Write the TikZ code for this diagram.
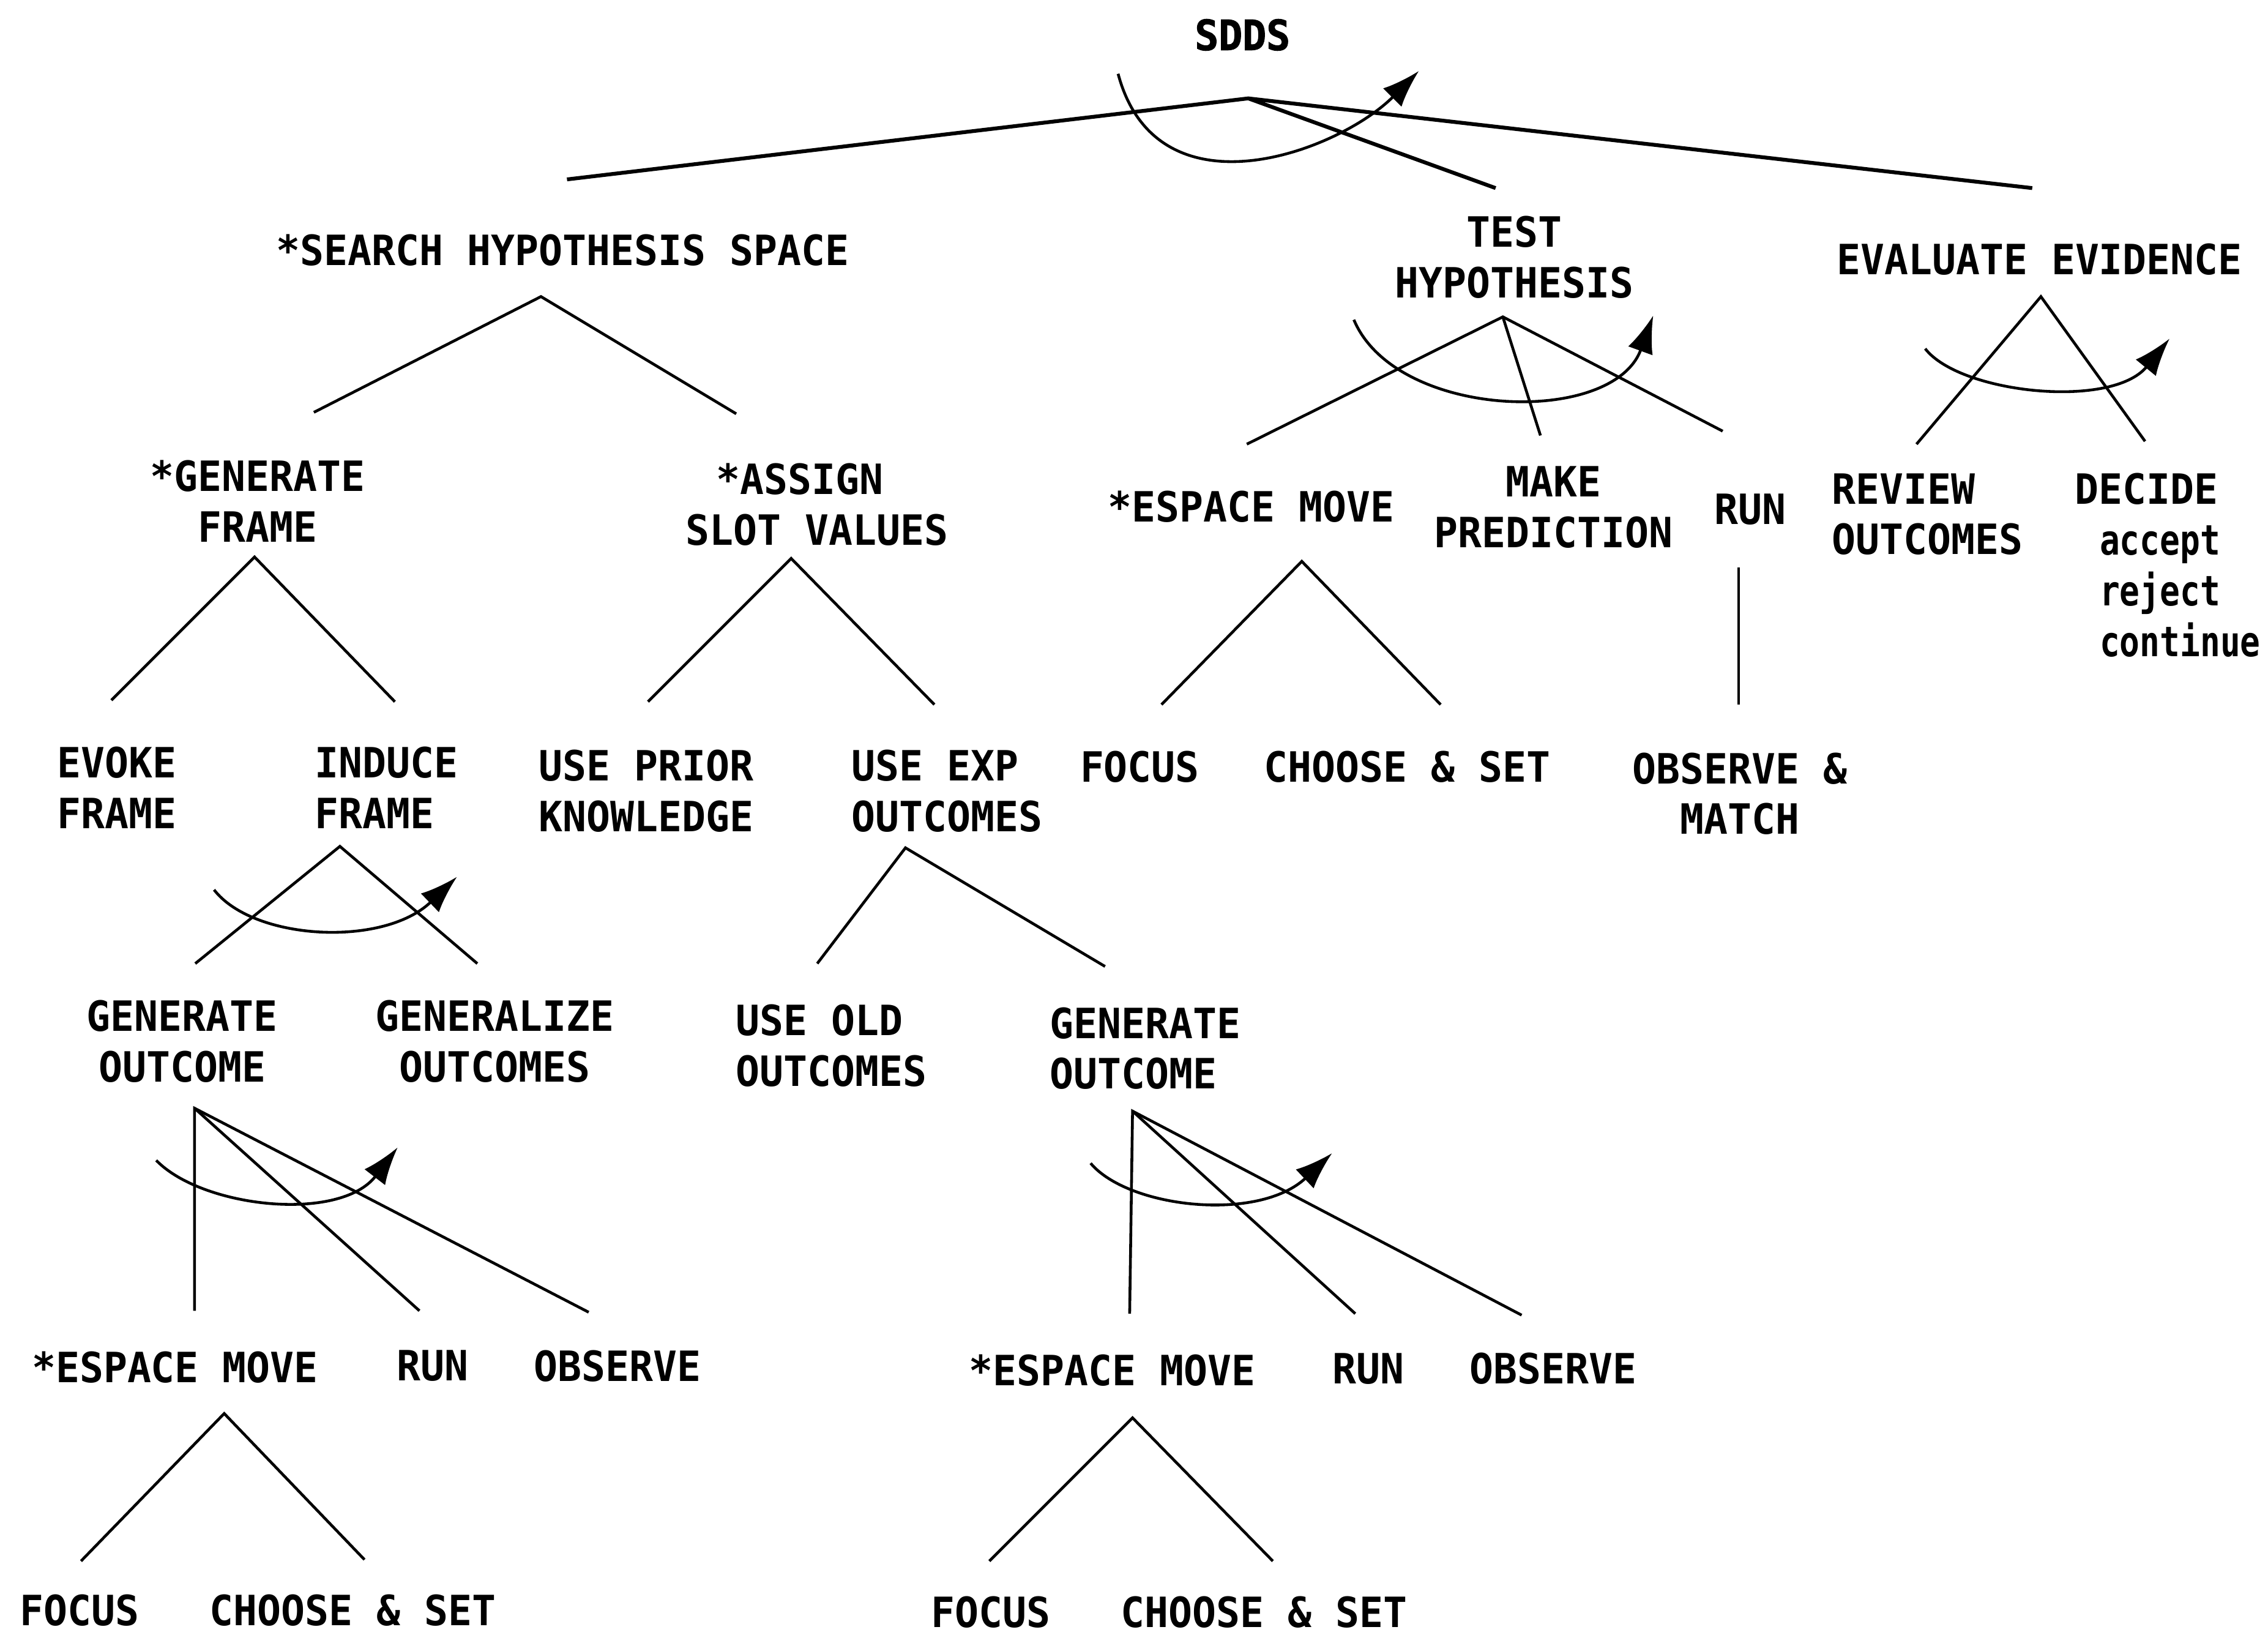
\documentclass[tikz,border=0pt]{standalone}
\usepackage{fontspec}
\newfontfamily\plotfont{DejaVu Sans Mono}[FakeStretch=0.95]
\newfontfamily\plotnarrow{DejaVu Sans Mono Bold}[FakeStretch=0.8]
\newfontfamily\plotheavy{DejaVu Sans Mono Bold}[FakeStretch=0.95, FakeBold=1.5]
\usetikzlibrary{arrows.meta}
\tikzset{
    task/.style={
        font=\plotfont\bfseries\fontsize{8.2}{9.96}\selectfont,
        inner sep=0pt, align=center, anchor=north, yshift=0.25mm
    },
    taskleft/.style={task, align=left, anchor=north west},
    title/.style={task, font=\plotheavy\fontsize{8.2}{9.96}\selectfont},
    branch/.style={line width=0.55pt},
    topbranch/.style={line width=0.75pt},
    seqarrow/.style={line width=0.55pt, -{Latex[length=2.6mm, width=1.8mm]}}
}

\begin{document}
\begin{tikzpicture}[x=0.01cm, y=-0.01cm]
\useasboundingbox (0,0) rectangle (1568,1130);

% Top goal
\node[title] (sdds) at (859,15) {SDDS};

% Level 1
\node[task] (search) at (389,164) {*SEARCH HYPOTHESIS SPACE};
\node[task] (test) at (1047,151) {TEST\\HYPOTHESIS};
\node[task] (eval) at (1410,170) {EVALUATE EVIDENCE};

% Level 2
\node[task] (genframe) at (178,320) {*GENERATE\\FRAME};
\node[task] (assign) at (565,322) {*ASSIGN\hspace*{0.24cm}\\SLOT VALUES};
\node[task] (espace1) at (865,341) {*ESPACE MOVE};
\node[task] (predict) at (1074,324) {MAKE\\PREDICTION};
\node[task] (run1) at (1210,343) {RUN};
\node[taskleft] (review) at (1266,329) {REVIEW\\OUTCOMES};
\node[taskleft] (decide) at (1434,329)
    {DECIDE\\{\plotnarrow\hspace*{0.17cm}accept}\\{\plotnarrow\hspace*{0.17cm}reject}\\{\plotnarrow\hspace*{0.17cm}continue}};

% Level 3
\node[taskleft] (evoke) at (39,518) {EVOKE\\FRAME};
\node[taskleft] (induce) at (217,518) {INDUCE\\FRAME};
\node[taskleft] (prior) at (372,520) {USE PRIOR\\KNOWLEDGE};
\node[taskleft] (useexp) at (588,520) {USE EXP\\OUTCOMES};
\node[task] (focus1) at (788,521) {FOCUS};
\node[task] (choose1) at (973,521) {CHOOSE \& SET};
\node[task] (obsmatch) at (1203,522) {OBSERVE \&\\MATCH};

% Level 4
\node[task] (genout1) at (126,693) {GENERATE\\OUTCOME};
\node[task] (generalize) at (342,693) {GENERALIZE\\OUTCOMES};
\node[taskleft] (useold) at (508,696) {USE OLD\\OUTCOMES};
\node[taskleft] (genout2) at (725,698) {GENERATE\\OUTCOME};

% Level 5
\node[task] (espace2) at (121,936) {*ESPACE MOVE};
\node[task] (run2) at (299,935) {RUN};
\node[task] (observe2) at (427,935) {OBSERVE};
\node[task] (espace3) at (769,938) {*ESPACE MOVE};
\node[task] (run3) at (946,937) {RUN};
\node[task] (observe3) at (1074,937) {OBSERVE};

% Level 6
\node[task] (focus2) at (55,1104) {FOCUS};
\node[task] (choose2) at (244,1104) {CHOOSE \& SET};
\node[task] (focus3) at (685,1105) {FOCUS};
\node[task] (choose3) at (874,1105) {CHOOSE \& SET};

% Fork points and branch ends
\coordinate (sdds-fork) at (863,68);
\coordinate (search-top) at (392,124);
\coordinate (test-top) at (1034,130);
\coordinate (eval-top) at (1405,130);
\coordinate (search-fork) at (374,205);
\coordinate (genframe-top) at (217,285);
\coordinate (assign-top) at (509,286);
\coordinate (test-fork) at (1039,219);
\coordinate (espace1-top) at (862,307);
\coordinate (predict-top) at (1065,301);
\coordinate (run1-top) at (1191,298);
\coordinate (eval-fork) at (1411,205);
\coordinate (review-top) at (1325,307);
\coordinate (decide-top) at (1483,305);
\coordinate (genframe-fork) at (176,385);
\coordinate (evoke-top) at (77,484);
\coordinate (induce-top) at (273,485);
\coordinate (assign-fork) at (547,386);
\coordinate (prior-top) at (448,485);
\coordinate (useexp-top) at (646,487);
\coordinate (espace1-fork) at (900,388);
\coordinate (focus1-top) at (803,487);
\coordinate (choose1-top) at (996,487);
\coordinate (run1-fork) at (1202,392);
\coordinate (obsmatch-top) at (1202,487);
\coordinate (induce-fork) at (235,585);
\coordinate (genout1-top) at (135,666);
\coordinate (generalize-top) at (330,666);
\coordinate (useexp-fork) at (626,586);
\coordinate (useold-top) at (565,666);
\coordinate (genout2-top) at (764,668);
\coordinate (genout1-fork) at (134.5,766);
\coordinate (espace2-top) at (134.5,906);
\coordinate (run2-top) at (290,906);
\coordinate (observe2-top) at (407,907);
\coordinate (genout2-fork) at (783,768);
\coordinate (espace3-top) at (781,908);
\coordinate (run3-top) at (937,908);
\coordinate (observe3-top) at (1052,909);
\coordinate (espace2-fork) at (155,977);
\coordinate (focus2-top) at (56,1079);
\coordinate (choose2-top) at (252,1078);
\coordinate (espace3-fork) at (783,980);
\coordinate (focus3-top) at (684,1079);
\coordinate (choose3-top) at (880,1079);

% Branches
\draw[topbranch] (search-top) -- (sdds-fork) -- (eval-top);
\draw[topbranch] (sdds-fork) -- (test-top);
\draw[branch] (genframe-top) -- (search-fork) -- (assign-top);
\draw[branch] (espace1-top) -- (test-fork) -- (run1-top);
\draw[branch] (test-fork) -- (predict-top);
\draw[branch] (review-top) -- (eval-fork) -- (decide-top);
\draw[branch] (evoke-top) -- (genframe-fork) -- (induce-top);
\draw[branch] (prior-top) -- (assign-fork) -- (useexp-top);
\draw[branch] (focus1-top) -- (espace1-fork) -- (choose1-top);
\draw[branch] (run1-fork) -- (obsmatch-top);
\draw[branch] (genout1-top) -- (induce-fork) -- (generalize-top);
\draw[branch] (useold-top) -- (useexp-fork) -- (genout2-top);
\draw[branch] (espace2-top) -- (genout1-fork) -- (observe2-top);
\draw[branch] (genout1-fork) -- (run2-top);
\draw[branch] (espace3-top) -- (genout2-fork) -- (observe3-top);
\draw[branch] (genout2-fork) -- (run3-top);
\draw[branch] (focus2-top) -- (espace2-fork) -- (choose2-top);
\draw[branch] (focus3-top) -- (espace3-fork) -- (choose3-top);

% Sequence arcs
\draw[seqarrow] (773,51) .. controls (800,152) and (925,105) .. (981,49);
\draw[seqarrow] (936,221) .. controls (965,290) and (1115,295) .. (1143,218);
\draw[seqarrow] (1331,241) .. controls (1355,272) and (1460,283) .. (1500,234);
\draw[seqarrow] (148,615) .. controls (175,650) and (265,655) .. (316,606);
\draw[seqarrow] (108,802) .. controls (140,835) and (235,845) .. (275,793);
\draw[seqarrow] (754,804) .. controls (780,835) and (870,845) .. (921,797);

\end{tikzpicture}
\end{document}
